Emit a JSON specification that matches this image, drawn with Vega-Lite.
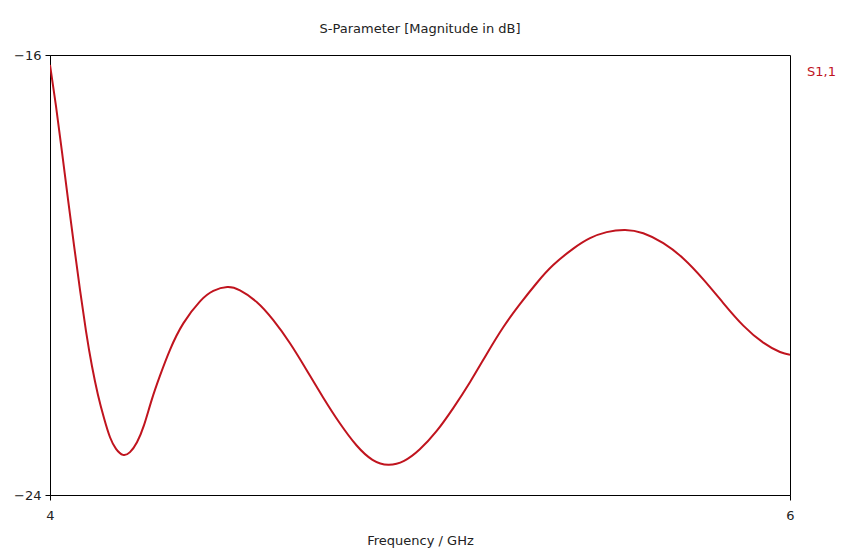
{
  "$schema": "https://vega.github.io/schema/vega-lite/v6.json",
  "width": 740,
  "height": 440,
  "autosize": {"type": "none"},
  "padding": {"left": 50, "top": 55, "right": 74, "bottom": 59},
  "background": "white",
  "title": {
    "text": "S-Parameter [Magnitude in dB]",
    "font": "DejaVu Sans",
    "fontSize": 13,
    "fontWeight": "normal",
    "color": "#222222",
    "anchor": "middle",
    "offset": 13
  },
  "config": {
    "view": {"stroke": "black", "strokeWidth": 1},
    "axis": {
      "labelFont": "DejaVu Sans",
      "titleFont": "DejaVu Sans",
      "labelFontSize": 13,
      "titleFontSize": 13,
      "titleFontWeight": "normal",
      "labelColor": "#222222",
      "titleColor": "#222222",
      "domainColor": "black",
      "tickColor": "black",
      "grid": false
    }
  },
  "data": {
    "values": [
      {"f": 4.0, "s": -16.18, "series": "S1,1"},
      {"f": 4.0162, "s": -16.93, "series": "S1,1"},
      {"f": 4.0324, "s": -17.76, "series": "S1,1"},
      {"f": 4.0486, "s": -18.62, "series": "S1,1"},
      {"f": 4.0649, "s": -19.46, "series": "S1,1"},
      {"f": 4.0811, "s": -20.27, "series": "S1,1"},
      {"f": 4.0973, "s": -21.02, "series": "S1,1"},
      {"f": 4.1135, "s": -21.66, "series": "S1,1"},
      {"f": 4.1297, "s": -22.18, "series": "S1,1"},
      {"f": 4.1459, "s": -22.60, "series": "S1,1"},
      {"f": 4.1622, "s": -22.95, "series": "S1,1"},
      {"f": 4.1784, "s": -23.16, "series": "S1,1"},
      {"f": 4.1973, "s": -23.27, "series": "S1,1"},
      {"f": 4.2162, "s": -23.22, "series": "S1,1"},
      {"f": 4.2351, "s": -23.04, "series": "S1,1"},
      {"f": 4.2541, "s": -22.73, "series": "S1,1"},
      {"f": 4.2749, "s": -22.27, "series": "S1,1"},
      {"f": 4.2973, "s": -21.83, "series": "S1,1"},
      {"f": 4.3243, "s": -21.36, "series": "S1,1"},
      {"f": 4.3603, "s": -20.88, "series": "S1,1"},
      {"f": 4.4054, "s": -20.48, "series": "S1,1"},
      {"f": 4.4414, "s": -20.29, "series": "S1,1"},
      {"f": 4.4792, "s": -20.22, "series": "S1,1"},
      {"f": 4.5135, "s": -20.28, "series": "S1,1"},
      {"f": 4.5586, "s": -20.49, "series": "S1,1"},
      {"f": 4.6035, "s": -20.82, "series": "S1,1"},
      {"f": 4.6486, "s": -21.24, "series": "S1,1"},
      {"f": 4.6938, "s": -21.73, "series": "S1,1"},
      {"f": 4.7386, "s": -22.23, "series": "S1,1"},
      {"f": 4.7838, "s": -22.70, "series": "S1,1"},
      {"f": 4.8288, "s": -23.10, "series": "S1,1"},
      {"f": 4.8716, "s": -23.36, "series": "S1,1"},
      {"f": 4.9143, "s": -23.45, "series": "S1,1"},
      {"f": 4.9570, "s": -23.38, "series": "S1,1"},
      {"f": 4.9995, "s": -23.17, "series": "S1,1"},
      {"f": 5.0446, "s": -22.84, "series": "S1,1"},
      {"f": 5.0898, "s": -22.42, "series": "S1,1"},
      {"f": 5.1350, "s": -21.95, "series": "S1,1"},
      {"f": 5.1800, "s": -21.44, "series": "S1,1"},
      {"f": 5.2250, "s": -20.95, "series": "S1,1"},
      {"f": 5.2700, "s": -20.53, "series": "S1,1"},
      {"f": 5.3150, "s": -20.15, "series": "S1,1"},
      {"f": 5.3600, "s": -19.82, "series": "S1,1"},
      {"f": 5.4143, "s": -19.52, "series": "S1,1"},
      {"f": 5.4595, "s": -19.33, "series": "S1,1"},
      {"f": 5.5046, "s": -19.22, "series": "S1,1"},
      {"f": 5.5541, "s": -19.18, "series": "S1,1"},
      {"f": 5.6035, "s": -19.24, "series": "S1,1"},
      {"f": 5.6576, "s": -19.42, "series": "S1,1"},
      {"f": 5.7116, "s": -19.70, "series": "S1,1"},
      {"f": 5.7657, "s": -20.08, "series": "S1,1"},
      {"f": 5.8197, "s": -20.51, "series": "S1,1"},
      {"f": 5.8738, "s": -20.92, "series": "S1,1"},
      {"f": 5.9278, "s": -21.23, "series": "S1,1"},
      {"f": 5.9730, "s": -21.40, "series": "S1,1"},
      {"f": 6.0, "s": -21.45, "series": "S1,1"}
    ]
  },
  "mark": {"type": "line", "interpolate": "natural", "strokeWidth": 2, "clip": true},
  "encoding": {
    "x": {
      "field": "f",
      "type": "quantitative",
      "scale": {"domain": [4, 6], "nice": false, "zero": false},
      "axis": {
        "values": [4, 6],
        "title": "Frequency / GHz",
        "titlePadding": 12,
        "labelFlush": false,
        "tickSize": 5,
        "labelPadding": 9
      }
    },
    "y": {
      "field": "s",
      "type": "quantitative",
      "scale": {"domain": [-24, -16], "nice": false, "zero": false},
      "axis": {
        "values": [-16, -24],
        "title": null,
        "tickSize": 5,
        "labelPadding": 4
      }
    },
    "color": {
      "field": "series",
      "type": "nominal",
      "scale": {"range": ["#c0141e"]},
      "legend": {
        "title": null,
        "orient": "none",
        "legendX": 744,
        "legendY": 10,
        "symbolOpacity": 0,
        "symbolSize": 0,
        "symbolStrokeWidth": 0,
        "labelColor": "#c0141e",
        "labelFont": "DejaVu Sans",
        "labelFontSize": 13,
        "labelOffset": 0
      }
    }
  }
}
